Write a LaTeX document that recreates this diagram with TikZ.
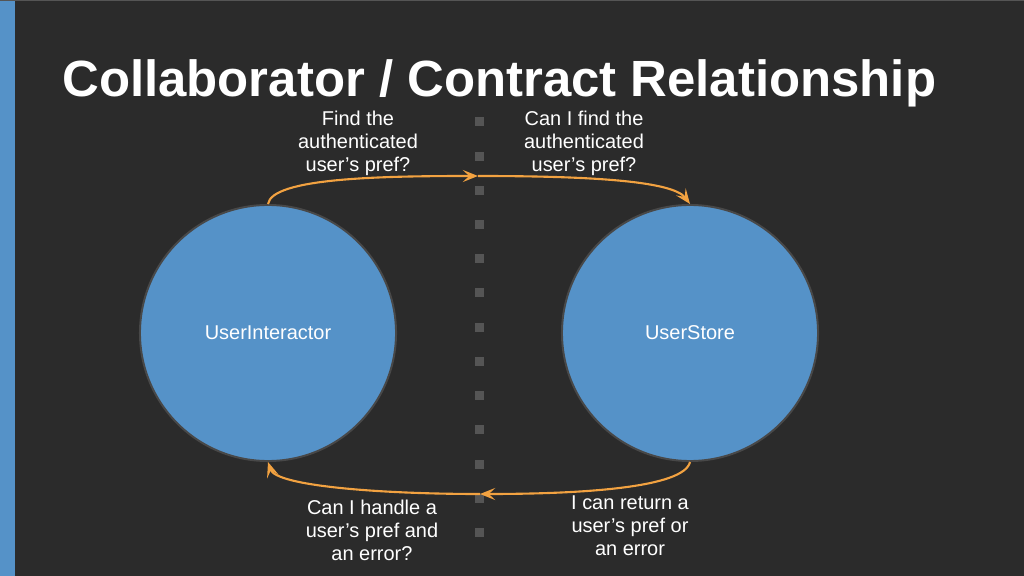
\documentclass[tikz,border=0pt]{standalone}
\usepackage{fontspec}
\setmainfont{Liberation Sans}
\usetikzlibrary{arrows.meta, positioning}
\definecolor{slideBg}{HTML}{2B2B2B}
\definecolor{slideBlue}{HTML}{5592C8}
\definecolor{ringGrey}{HTML}{484848}
\definecolor{dotGrey}{HTML}{555555}
\definecolor{msgOrange}{HTML}{F2A241}
\tikzset{
  role/.style    = {circle, draw=ringGrey, line width=1.4pt, fill=slideBlue,
                    minimum size=6.4cm, inner sep=0pt, text=white,
                    font=\fontsize{14.2}{16.4}\selectfont},
  msg/.style     = {msgOrange, line width=1.5pt,
                    -{Stealth[length=3.8mm, width=3mm, inset=1.6mm]}},
  msglbl/.style  = {align=center, text=white, inner sep=0pt,
                    font=\fontsize{14.2}{16.4}\selectfont},
  divider/.style = {fill=dotGrey},
}

\begin{document}
\begin{tikzpicture}[x=0.025cm, y=-0.025cm]

% ---- slide background ----------------------------------------------------
\fill[slideBg] (0,0) rectangle (1024,576);
\useasboundingbox (0,0) rectangle (1024,576);
\fill[slideBlue] (0,0) rectangle (15,576);
\fill[dotGrey] (0,0) rectangle (1024,1.5);

% ---- title -----------------------------------------------------------------
\node[anchor=base west, inner sep=0pt, text=white,
      font=\fontsize{36.2}{40}\selectfont\bfseries] (title) at (62,97)
  {Collaborator / Contract Relationship};

% ---- contract boundary -----------------------------------------------------
\foreach \i in {0,...,12} {
  \fill[divider] (474.5,{117.5+34.2*\i}) rectangle +(9,9);
}

% ---- the two roles ---------------------------------------------------------
\node[role] (ui) at (268,333) {UserInteractor};
\node[role] (us) at (690,333) {UserStore};

\coordinate (askmid) at (478,176);
\coordinate (replymid) at (480,494);

% ---- request and response --------------------------------------------------
\draw[msg] (ui.north) .. controls (272,178) and (380,176) .. (askmid);
\draw[msg] (askmid) .. controls (580,176) and (672,180) .. (us.north);
\draw[msg] (us.south) .. controls (684,488) and (580,494) .. (replymid);
\draw[msg] (replymid) .. controls (380,494) and (276,486) .. (ui.south);

% ---- labels ----------------------------------------------------------------
\node[msglbl] (ask1) at (358,143) {Find the\\authenticated\\user’s pref?};
\node[msglbl] (ask2) at (584,143) {Can I find the\\authenticated\\user’s pref?};
\node[msglbl] (reply2) at (630,526) {I can return a\\user’s pref or\\an error};
\node[msglbl] (reply1) at (372,530) {Can I handle a\\user’s pref and\\an error?};

\end{tikzpicture}
\end{document}
